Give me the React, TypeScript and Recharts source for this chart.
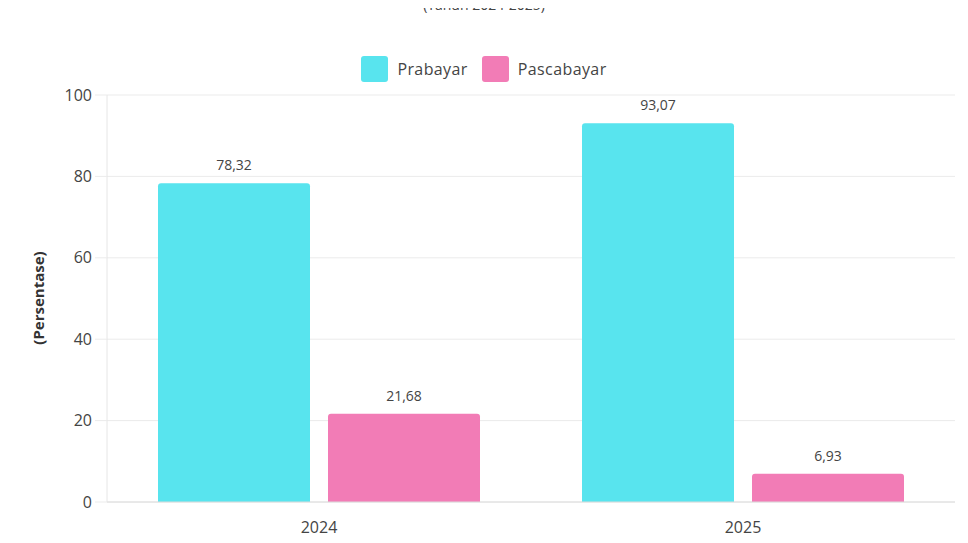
import React from 'react';
import { BarChart, Bar, XAxis, YAxis, CartesianGrid, Legend, LabelList } from 'recharts';

const years = ['2024', '2025'];
const prabayar = [78.32, 93.07];
const pascabayar = [21.68, 6.93];
const yTicks = [0, 20, 40, 60, 80, 100];

const SERIES = [
  { key: 'prabayar', name: 'Prabayar', color: '#58E4EE' },
  { key: 'pascabayar', name: 'Pascabayar', color: '#F27CB6' },
];

const FONT = '"Open Sans", sans-serif';

const chartData = years.map((year, i) => ({
  year,
  prabayar: prabayar[i],
  pascabayar: pascabayar[i],
}));

const fmt = (v: any) => Number(v).toFixed(2).replace('.', ',');

const renderLegend = () => (
  <div style={{ display: 'flex', justifyContent: 'center', gap: 14, fontFamily: FONT, fontSize: 16, color: '#444', height: 26 }}>
    {SERIES.map(s => (
      <div key={s.key} style={{ display: 'flex', alignItems: 'center', gap: 9 }}>
        <span style={{ width: 27, height: 26, borderRadius: 3, background: s.color, display: 'inline-block' }} />
        <span style={{ letterSpacing: 0.4 }}>{s.name}</span>
      </div>
    ))}
  </div>
);

const YLabel = () => (
  <text
    x={38}
    y={298}
    transform="rotate(-90, 38, 298)"
    textAnchor="middle"
    dominantBaseline="central"
    fontFamily={FONT}
    fontSize={15}
    fontWeight={700}
    fill="#333"
  >
    (Persentase)
  </text>
);

export default function App() {
  return (
    <div style={{ position: 'relative', width: 968, height: 543, margin: -8, background: '#fff', overflow: 'hidden' }}>
      <BarChart
        width={968}
        height={543}
        data={chartData}
        margin={{ top: 69, right: 13, bottom: 0, left: 0 }}
        barCategoryGap={51}
        barGap={18}
      >
        <text x={484} y={10} textAnchor="middle" fontFamily={FONT} fontSize={14} fill="#444">
          (Tahun 2024-2025)
        </text>
        <CartesianGrid vertical={false} stroke="#ebebeb" />
        <XAxis
          dataKey="year"
          height={41}
          tickSize={6}
          tickLine={false}
          tickMargin={14}
          axisLine={{ stroke: '#dcdcdc' }}
          tick={{ fontFamily: FONT, fontSize: 16, fill: '#444' }}
        />
        <YAxis
          width={107}
          domain={[0, 100]}
          ticks={yTicks}
          tickSize={12}
          tickMargin={3}
          tickLine={{ stroke: '#ebebeb' }}
          axisLine={{ stroke: '#e6e6e6' }}
          tick={{ fontFamily: FONT, fontSize: 16, fill: '#444' }}
          label={<YLabel />}
        />
        <Legend verticalAlign="top" content={renderLegend} wrapperStyle={{ top: 56, left: 0, width: 968 }} />
        {SERIES.map(s => (
          <Bar key={s.key} dataKey={s.key} name={s.name} fill={s.color} radius={[3, 3, 0, 0]} isAnimationActive={false}>
            <LabelList
              dataKey={s.key}
              position="top"
              offset={13}
              formatter={fmt}
              style={{ fontFamily: FONT, fontSize: 14, fill: '#444' }}
            />
          </Bar>
        ))}
      </BarChart>
    </div>
  );
}
